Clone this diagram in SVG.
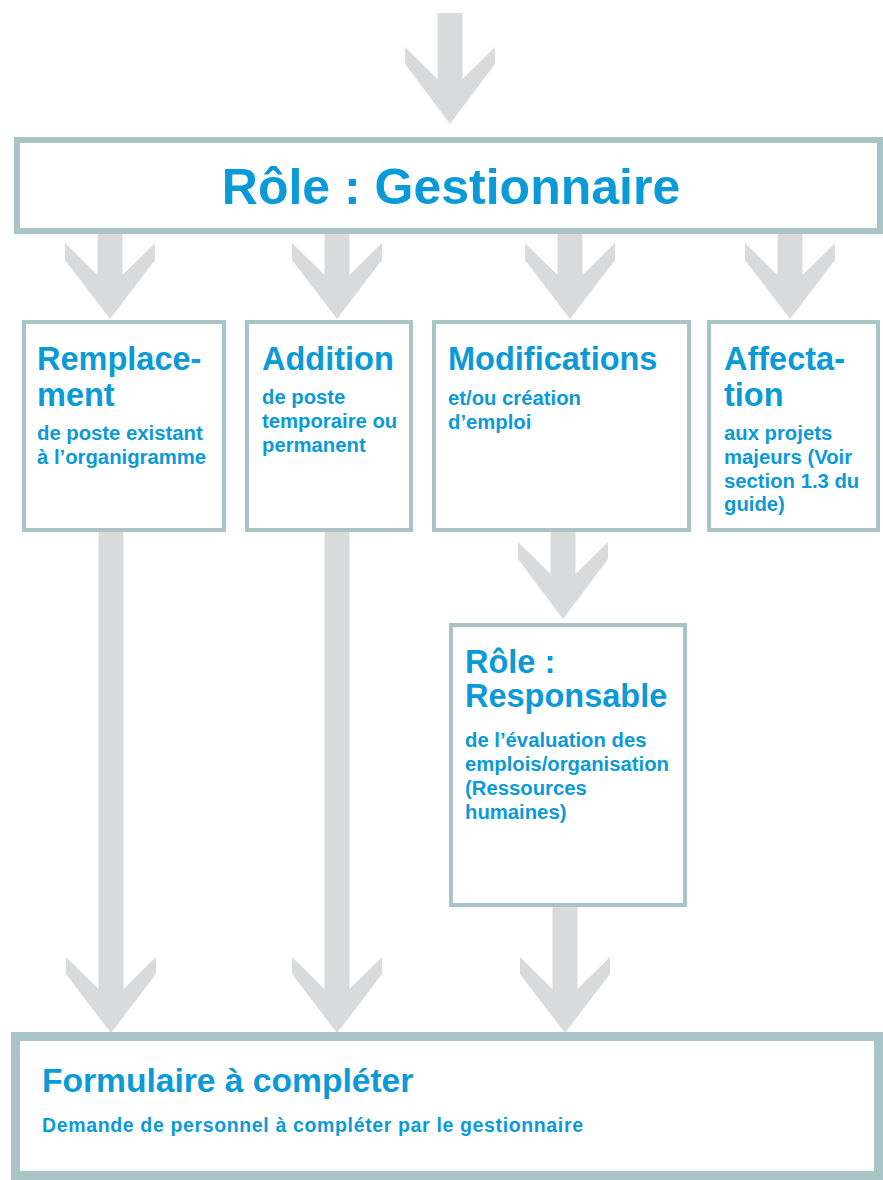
<svg xmlns="http://www.w3.org/2000/svg" width="883" height="1180" viewBox="0 0 883 1180">
<defs>
<style>
.box{fill:#ffffff;stroke:#a9c4c6;stroke-width:4}
.big{fill:#ffffff;stroke:#a9c4c6;stroke-width:6}
.arrow{fill:#d9dadb;stroke:none}
text{font-family:"Liberation Sans",Arial,sans-serif;font-weight:700;fill:#0b9ad8}
.h1{font-size:50px}
.h2{font-size:32.5px}
.sub{font-size:20.3px}
.h3{font-size:33.6px}
.sub2{font-size:19.5px}
</style>
</defs>
<rect width="883" height="1180" fill="#ffffff"/>
<g id="connectors">
<polygon class="arrow" points="437.5,13 462.5,13 462.5,79 495,47 495,64 450,124 405,64 405,47 437.5,79"/>
<polygon class="arrow" points="97.5,234 122.5,234 122.5,275 155,243 155,260 110,319 65,260 65,243 97.5,275"/>
<polygon class="arrow" points="324.5,234 349.5,234 349.5,275 382,243 382,260 337,319 292,260 292,243 324.5,275"/>
<polygon class="arrow" points="557.5,234 582.5,234 582.5,275 615,243 615,260 570,319 525,260 525,243 557.5,275"/>
<polygon class="arrow" points="777.5,234 802.5,234 802.5,275 835,243 835,260 790,319 745,260 745,243 777.5,275"/>
<polygon class="arrow" points="98.5,532 123.5,532 123.5,989 156,957 156,974 111,1033 66,974 66,957 98.5,989"/>
<polygon class="arrow" points="324.5,532 349.5,532 349.5,989 382,957 382,974 337,1033 292,974 292,957 324.5,989"/>
<polygon class="arrow" points="550.5,532 575.5,532 575.5,574 608,542 608,559 563,619 518,559 518,542 550.5,574"/>
<polygon class="arrow" points="552.5,907 577.5,907 577.5,989 610,957 610,974 565,1033 520,974 520,957 552.5,989"/>
</g>
<g id="gestionnaire">
<rect class="big" x="17" y="140" width="863" height="91"/>
<text class="h1" x="451" y="204" text-anchor="middle">Rôle : Gestionnaire</text>
</g>
<g id="remplacement">
<rect class="box" x="24" y="322" width="200" height="208"/>
<text class="h2" x="37" y="370">Remplace-</text>
<text class="h2" x="37" y="406">ment</text>
<text class="sub" x="37" y="440">de poste existant</text>
<text class="sub" x="37" y="464">à l’organigramme</text>
</g>
<g id="addition">
<rect class="box" x="247" y="322" width="164" height="208"/>
<text class="h2" x="262" y="370">Addition</text>
<text class="sub" x="262" y="404">de poste</text>
<text class="sub" x="262" y="428">temporaire ou</text>
<text class="sub" x="262" y="452">permanent</text>
</g>
<g id="modifications">
<rect class="box" x="434" y="322" width="255" height="208"/>
<text class="h2" x="448" y="370">Modifications</text>
<text class="sub" x="448" y="405">et/ou création</text>
<text class="sub" x="448" y="429">d’emploi</text>
</g>
<g id="affectation">
<rect class="box" x="709" y="322" width="169" height="208"/>
<text class="h2" x="724" y="370">Affecta-</text>
<text class="h2" x="724" y="406">tion</text>
<text class="sub" x="724" y="440">aux projets</text>
<text class="sub" x="724" y="464">majeurs (Voir</text>
<text class="sub" x="724" y="488">section 1.3 du</text>
<text class="sub" x="724" y="511">guide)</text>
</g>
<g id="responsable">
<rect class="box" x="451" y="625" width="234" height="280"/>
<text class="h2" x="465" y="673">Rôle :</text>
<text class="h2" x="465" y="707">Responsable</text>
<text class="sub" x="465" y="747">de l’évaluation des</text>
<text class="sub" x="465" y="771">emplois/organisation</text>
<text class="sub" x="465" y="795">(Ressources</text>
<text class="sub" x="465" y="819">humaines)</text>
</g>
<g id="formulaire">
<rect class="big" x="15.5" y="1036.5" width="863" height="139" style="stroke-width:9"/>
<text class="h3" x="42" y="1092">Formulaire à compléter</text>
<text class="sub2" x="42" y="1132" textLength="541" lengthAdjust="spacing">Demande de personnel à compléter par le gestionnaire</text>
</g>
</svg>
